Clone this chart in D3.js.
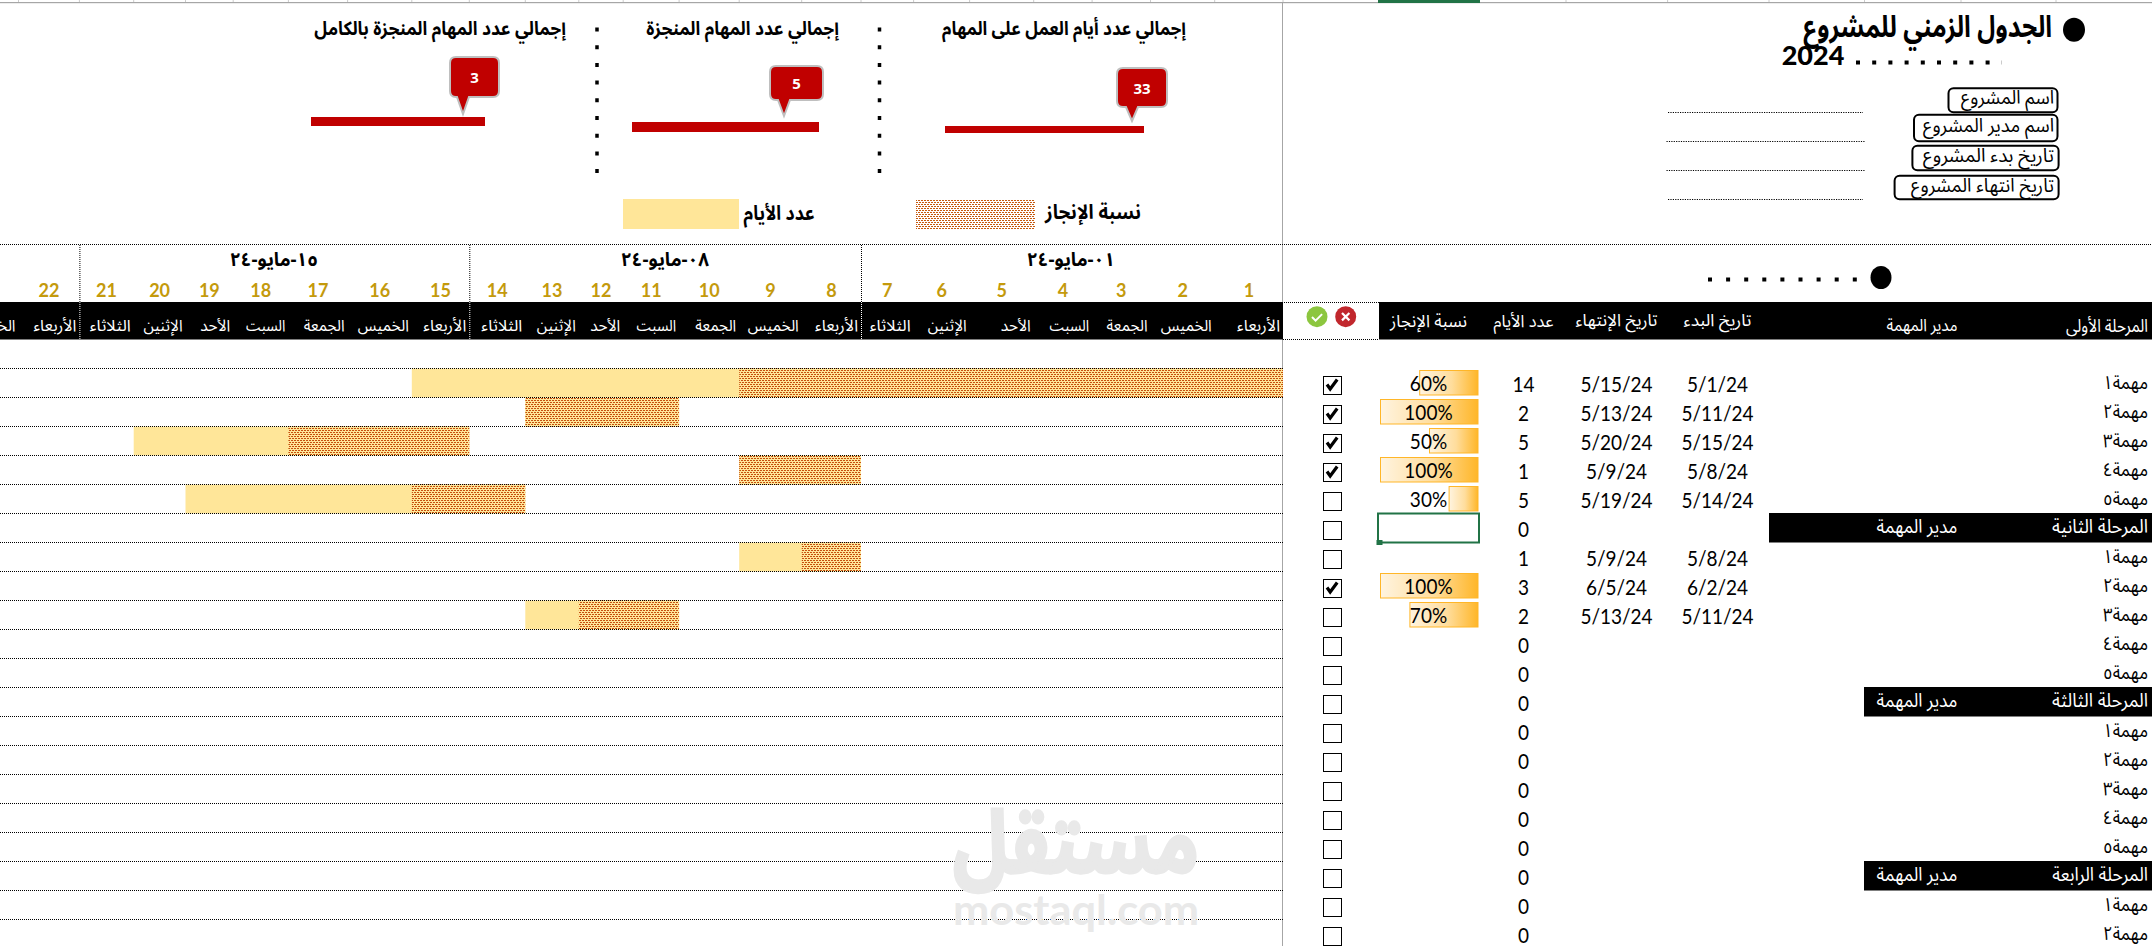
<!DOCTYPE html>
<html lang="ar"><head><meta charset="utf-8">
<style>
html,body{margin:0;padding:0;background:#fff;overflow:hidden}
svg{display:block}
.ar{direction:rtl;font-family:"Noto Sans Arabic","DejaVu Sans",sans-serif}
.num{font-family:Lato,Carlito,Calibri,sans-serif}
</style></head><body>
<svg id="c" width="2152" height="946"></svg>
<script src="https://cdn.jsdelivr.net/npm/d3@7"></script>
<script>
// ---------- data ----------
const rowLabels=["مهمة١","مهمة٢","مهمة٣","مهمة٤","مهمة٥","المرحلة الثانية","مهمة١","مهمة٢","مهمة٣","مهمة٤","مهمة٥","المرحلة الثالثة","مهمة١","مهمة٢","مهمة٣","مهمة٤","مهمة٥","المرحلة الرابعة","مهمة١","مهمة٢"];
const phaseRows=[5,11,17];
const phaseBarLeft=[1769,1864,1864];
const progress=[60,100,50,100,30,null,null,100,70];
const dayCounts=[14,2,5,1,5,0,1,3,2,0,0,0,0,0,0,0,0,0,0,0];
const startDates=["5/1/24","5/11/24","5/15/24","5/8/24","5/14/24","","5/8/24","6/2/24","5/11/24"];
const endDates=["5/15/24","5/13/24","5/20/24","5/9/24","5/19/24","","5/9/24","6/5/24","5/13/24"];
const checked=[1,1,1,1,0,0,0,1,0,0,0,0,0,0,0,0,0,0,0,0];
// Gantt: first day, last day, last day of the completed part (row index in ganttRows)
const ganttRows=[0,1,2,3,4,6,8];
const ganttFirst=[1,11,15,8,14,8,11];
const ganttLast=[15,13,20,9,19,9,13];
const ganttDoneLast=[9,13,17,9,15,8,12];
const days=d3.range(1,24);
const dayNumbers=d3.range(1,23);
const weekdayNames=["الأربعاء","الخميس","الجمعة","السبت","الأحد","الإثنين","الثلاثاء"];
const weekLabels=["٠١-مايو-٢٤","٠٨-مايو-٢٤","١٥-مايو-٢٤"];
const weekFirstDays=[1,8,15,22];
const kpiTitles=["إجمالي عدد أيام العمل على المهام","إجمالي عدد المهام المنجزة","إجمالي عدد المهام المنجزة بالكامل"];
const kpiValues=[33,5,3];
const tableHeads=["تاريخ البدء","تاريخ الإنتهاء","عدد الأيام","نسبة الإنجاز"];
const infoLabels=["اسم المشروع","اسم مدير المشروع","تاريخ بدء المشروع","تاريخ انتهاء المشروع"];

// ---------- layout ----------
const svg=d3.select("#c");
const BLACK="#000",GOLD="#C49A0C",YEL="#FFE699",RED="#C00000",GRAY="#a6a6a6";
const GRID_R=1283;
const colW=[68.3,64.2,58.4,58.4,64.1,56,52.6,59.3,62.5,60.1,55.9,44.4,53.5,56,57.5,64.2,59.2,55.2,47.7,51.8,54.3,60.9,68];
const weekdayW=[43,51,41,39.5,30,39,41];
const x=d3.scaleLinear().domain(d3.range(1,25)).range(d3.cumsum([GRID_R,...colW.map(w=>-w)]));
const y=d3.scaleLinear().domain([0,20]).range([368,948]);
const pctX=d3.scaleLinear().domain([0,100]).range([1478,1380]);
const COL={days:1523.5,end:1616.5,start:1717.5,pct:1428.5,check:1332.5};

const defs=svg.append("defs");
function dots(id,bg,col){
  const p=defs.append("pattern").attr("id",id).attr("patternUnits","userSpaceOnUse").attr("width",3).attr("height",4);
  p.append("rect").attr("width",3).attr("height",4).attr("fill",bg);
  [[0,0],[1,2]].forEach(([a,b])=>p.append("rect").attr("x",a).attr("y",b).attr("width",2).attr("height",1).attr("fill",col));
}
dots("hatchY",YEL,"#C5500F");dots("hatchW","#fff","#C55A11");
const grad=defs.append("linearGradient").attr("id","pg");
grad.append("stop").attr("offset","0").attr("stop-color","#FFF4E0");
grad.append("stop").attr("offset","0.55").attr("stop-color","#FFDD9C");
grad.append("stop").attr("offset","1").attr("stop-color","#FFB628");

function T(g,str,px,py,o={}){
  const t=g.append("text").text(str).attr("class",o.cls||"ar")
    .attr("x",0).attr("y",0).attr("dominant-baseline","central")
    .attr("font-size",o.size||13).attr("font-weight",o.weight||(o.bold?700:400)).attr("fill",o.fill||"#000");
  const ar=(o.cls||"ar")==="ar";
  const right=o.anchor==="right", mid=o.anchor==="middle"||!o.anchor;
  t.attr("text-anchor",mid?"middle":right?(ar?"start":"end"):(ar?"end":"start"));
  let sx=o.sx||1;
  if(o.w){sx=o.w/t.node().getComputedTextLength();}
  t.attr("transform",`translate(${px},${py}) scale(${sx},${o.sy||1})`);
  return t;
}
function hDots(g,x1,x2,yy,w,gap,col){
  g.append("line").attr("x1",x1).attr("x2",x2).attr("y1",yy).attr("y2",yy)
   .attr("stroke",col||"#000").attr("stroke-width",w).attr("stroke-dasharray",`${w},${gap}`);
}
function fine(g,x1,x2,y1,y2,col){
  g.append("line").attr("x1",x1).attr("x2",x2).attr("y1",y1).attr("y2",y2)
   .attr("stroke",col||"#000").attr("stroke-width",1).attr("stroke-dasharray","1,1");
}

// ---------- sheet chrome ----------
const chrome=svg.append("g");
chrome.append("rect").attr("x",0).attr("y",2).attr("width",2152).attr("height",1.2).attr("fill",GRAY);
chrome.append("rect").attr("x",1378).attr("y",0).attr("width",102).attr("height",3).attr("fill","#217346");
[...days.map(d=>x(d)),1566,1667.6,1769,1864.5,1961,2056].forEach(v=>
  chrome.append("line").attr("x1",v).attr("x2",v).attr("y1",0).attr("y2",2).attr("stroke","#ccc"));

// ---------- Gantt header ----------
const hdr=svg.append("g");
hdr.append("rect").attr("x",0).attr("y",302).attr("width",GRID_R).attr("height",37.5).attr("fill",BLACK);
fine(hdr,0,2152,244.5,244.5);
fine(hdr,0,2152,302.5,302.5);
fine(hdr,1283,1379,339.5,339.5);
weekFirstDays.slice(1).forEach(d=>{
  fine(hdr,x(d)+.5,x(d)+.5,245,302);
  fine(hdr,x(d)+.5,x(d)+.5,302,339,"#fff");
});
weekLabels.forEach((s,i)=>{
  T(hdr,s,[1071,665,274][i],260,{bold:true,size:19,w:88});
});
dayNumbers.forEach(d=>{
  T(hdr,String(d),(x(d)+x(d+1))/2,289.5,{cls:"num",bold:true,size:18,fill:GOLD});
});
days.forEach((d,i)=>{
  T(hdr,weekdayNames[i%7],x(d)-3,326,{anchor:"right",size:16,fill:"#fff",w:weekdayW[i%7]});
});

// ---------- Gantt rows ----------
const gantt=svg.append("g");
gantt.selectAll("rect.y").data(ganttRows).join("rect").attr("class","y")
  .attr("x",(r,i)=>x(ganttLast[i]+1)).attr("y",r=>y(r)+.5)
  .attr("width",(r,i)=>x(ganttFirst[i])-x(ganttLast[i]+1)).attr("height",29).attr("fill",YEL);
gantt.selectAll("rect.h").data(ganttRows).join("rect").attr("class","h")
  .attr("x",(r,i)=>x(ganttDoneLast[i]+1)).attr("y",r=>y(r)+.5)
  .attr("width",(r,i)=>x(ganttFirst[i])-x(ganttDoneLast[i]+1)).attr("height",29).attr("fill","url(#hatchY)");
d3.range(0,20).forEach(i=>fine(gantt,0,GRID_R,y(i)+.5,y(i)+.5));
chrome.append("line").attr("x1",GRID_R-.5).attr("x2",GRID_R-.5).attr("y1",2).attr("y2",946).attr("stroke",GRAY);

// ---------- table header ----------
const tbl=svg.append("g");
tbl.append("rect").attr("x",1379).attr("y",302).attr("width",773).attr("height",37.5).attr("fill",BLACK);
[COL.start,COL.end,COL.days,COL.pct].forEach((cx,i)=>{
  T(tbl,tableHeads[i],cx,321,{size:17,fill:"#fff",w:[68,82,60,77][i]});
});
T(tbl,"مدير المهمة",1922,326,{size:17,fill:"#fff",w:71});
T(tbl,"المرحلة الأولى",2148,326,{anchor:"right",size:18,fill:"#fff",w:82});
// status icons
tbl.append("circle").attr("cx",1317).attr("cy",316.7).attr("r",10.5).attr("fill","#8CC63F");
tbl.append("circle").attr("cx",1345.7).attr("cy",316.7).attr("r",10.5).attr("fill","#C1272D");
tbl.append("path").attr("d","M1312 317l3.6 3.6 6.5-6.5").attr("fill","none").attr("stroke","#fff").attr("stroke-width",2);
tbl.append("path").attr("d","M1342 313l7.4 7.4M1349.4 313l-7.4 7.4").attr("fill","none").attr("stroke","#fff").attr("stroke-width",2.2);

// ---------- table rows ----------
phaseRows.forEach((r,i)=>{
  tbl.append("rect").attr("x",phaseBarLeft[i]).attr("y",y(r)).attr("width",2152-phaseBarLeft[i]).attr("height",29.5).attr("fill",BLACK);
  T(tbl,"مدير المهمة",1917,y(r)+14,{size:19,fill:"#fff",w:81});
});
rowLabels.forEach((s,r)=>{
  const isPhase=phaseRows.includes(r), cy=y(r)+16;
  if(isPhase) T(tbl,s,2148,y(r)+14,{anchor:"right",size:19,fill:"#fff",w:96});
  else T(tbl,s,2148,cy-1,{anchor:"right",size:19,w:45});
  T(tbl,String(dayCounts[r]),COL.days,cy,{cls:"num",size:19,sy:1.08});
  if(startDates[r]){
    T(tbl,startDates[r],COL.start,cy,{cls:"num",size:19,sy:1.08});
    T(tbl,endDates[r],COL.end,cy,{cls:"num",size:19,sy:1.08});
  }
  // checkbox
  const by=y(r)+8.5;
  tbl.append("rect").attr("x",1323.5).attr("y",by).attr("width",18).attr("height",18).attr("fill","#fff").attr("stroke","#000").attr("stroke-width",1);
  if(checked[r]) tbl.append("path").attr("d",`M1327 ${by+8}l3.2 4.5 7-9.5`).attr("fill","none").attr("stroke","#000").attr("stroke-width",3.2);
});
progress.forEach((p,r)=>{
  if(p==null) return;
  tbl.append("rect").attr("x",pctX(p)+.5).attr("y",y(r)+2.5).attr("width",pctX(0)-pctX(p)-.5).attr("height",24.5)
    .attr("fill","url(#pg)").attr("stroke","#FFB628").attr("stroke-width",1);
  T(tbl,p+"%",COL.pct,y(r)+15,{cls:"num",size:19,sy:1.08});
});
// selected cell
tbl.append("rect").attr("x",1378).attr("y",y(5)+.5).attr("width",101).attr("height",29).attr("fill","none").attr("stroke","#217346").attr("stroke-width",2);
tbl.append("rect").attr("x",1376.5).attr("y",y(5)+27).attr("width",6).attr("height",5).attr("fill","#217346");

// ---------- KPI panels ----------
const kpi=svg.append("g");
const kpiBarX=[[945,1144],[632,819],[311,485]];
const kpiBarY=[[126,133],[122,132],[117,126]];
const kpiBox=[[1117,1167,68,107,1132,121],[770,823,66,100,784,116],[450,499,57,97,463,114]];
const kpiTitleBox=[[942,1186],[646,839],[314,566]];
kpiValues.forEach((v,i)=>{
  const s=d3.scaleLinear().domain([0,v]).range(kpiBarX[i]);
  kpi.append("rect").attr("x",s(0)).attr("y",kpiBarY[i][0]).attr("width",s(v)-s(0)).attr("height",kpiBarY[i][1]-kpiBarY[i][0]).attr("fill",RED);
  const [l,r,t,b,tx,ty]=kpiBox[i], R=6;
  const d=`M${l+R} ${t}H${r-R}Q${r} ${t} ${r} ${t+R}V${b-R}Q${r} ${b} ${r-R} ${b}H${tx+6}L${tx} ${ty}L${tx-6} ${b}H${l+R}Q${l} ${b} ${l} ${b-R}V${t+R}Q${l} ${t} ${l+R} ${t}Z`;
  kpi.append("path").attr("d",d).attr("fill",RED).attr("stroke","#bfbfbf").attr("stroke-width",2);
  T(kpi,String(v),(l+r)/2,(t+b)/2,{cls:"num",bold:true,size:15,fill:"#fff"}).style("font-family","'Open Sans',sans-serif");
  T(kpi,kpiTitles[i],kpiTitleBox[i][1],29,{anchor:"right",bold:true,size:19,w:kpiTitleBox[i][1]-kpiTitleBox[i][0]});
});
[879.5,597].forEach(vx=>{
  kpi.append("line").attr("x1",vx).attr("x2",vx).attr("y1",27.5).attr("y2",175).attr("stroke","#000").attr("stroke-width",3.5).attr("stroke-dasharray","4,13.7");
});
// legend
kpi.append("rect").attr("x",916).attr("y",199).attr("width",119).attr("height",30).attr("fill","url(#hatchW)");
T(kpi,"نسبة الإنجاز",1141,212,{anchor:"right",bold:true,size:20,w:96});
kpi.append("rect").attr("x",623).attr("y",199).attr("width",116).attr("height",30).attr("fill",YEL);
T(kpi,"عدد الأيام",814.5,214,{anchor:"right",bold:true,size:20,w:71});

// ---------- title block ----------
const tb=svg.append("g");
tb.append("ellipse").attr("cx",2074).attr("cy",29.7).attr("rx",11).attr("ry",12).attr("fill","#000");
T(tb,"الجدول الزمني للمشروع",2052,27,{anchor:"right",bold:true,size:30,w:249});
T(tb,"2024",1813,54,{cls:"num",weight:900,size:27});
hDots(tb,1856,2002,62.5,4,12.2);
const boxes=[[1948.5,2057.5,88.3,112.3],[1914,2057.5,114.7,141.3],[1912.4,2058.6,145.7,170.3],[1894.6,2058.6,175.7,199.3]];
const rules=[[1668,1863,112.5],[1666.5,1865,141.5],[1666.5,1865,170.5],[1668,1863,199.5]];
infoLabels.forEach((s,i)=>{
  const [l,r,t,b]=boxes[i];
  tb.append("rect").attr("x",l).attr("y",t).attr("width",r-l).attr("height",b-t).attr("rx",5).attr("fill","#fff").attr("stroke","#000").attr("stroke-width",2);
  T(tb,s,2054,(t+b)/2-2,{anchor:"right",size:19,w:[93,131,131,143][i]});
  tb.append("line").attr("x1",rules[i][0]).attr("x2",rules[i][1]).attr("y1",rules[i][2]).attr("y2",rules[i][2]).attr("stroke","#000").attr("stroke-dasharray","1.2,1.2");
});
tb.append("ellipse").attr("cx",1881).attr("cy",277.5).attr("rx",10.5).attr("ry",11.5).attr("fill","#000");
hDots(tb,1708,1858,279.5,4,14.1);

// ---------- watermark ----------
const wm=svg.append("g");
T(wm,"مستقل",1076,845,{bold:true,size:88,fill:"#e9e9e9",w:246}).attr("stroke","#e9e9e9").attr("stroke-width",3);
T(wm,"mostaql.com",1076,909,{cls:"num",bold:true,size:42,fill:"#e9e9e9",w:246}).style("font-family","Lato,sans-serif");
</script></body></html>
